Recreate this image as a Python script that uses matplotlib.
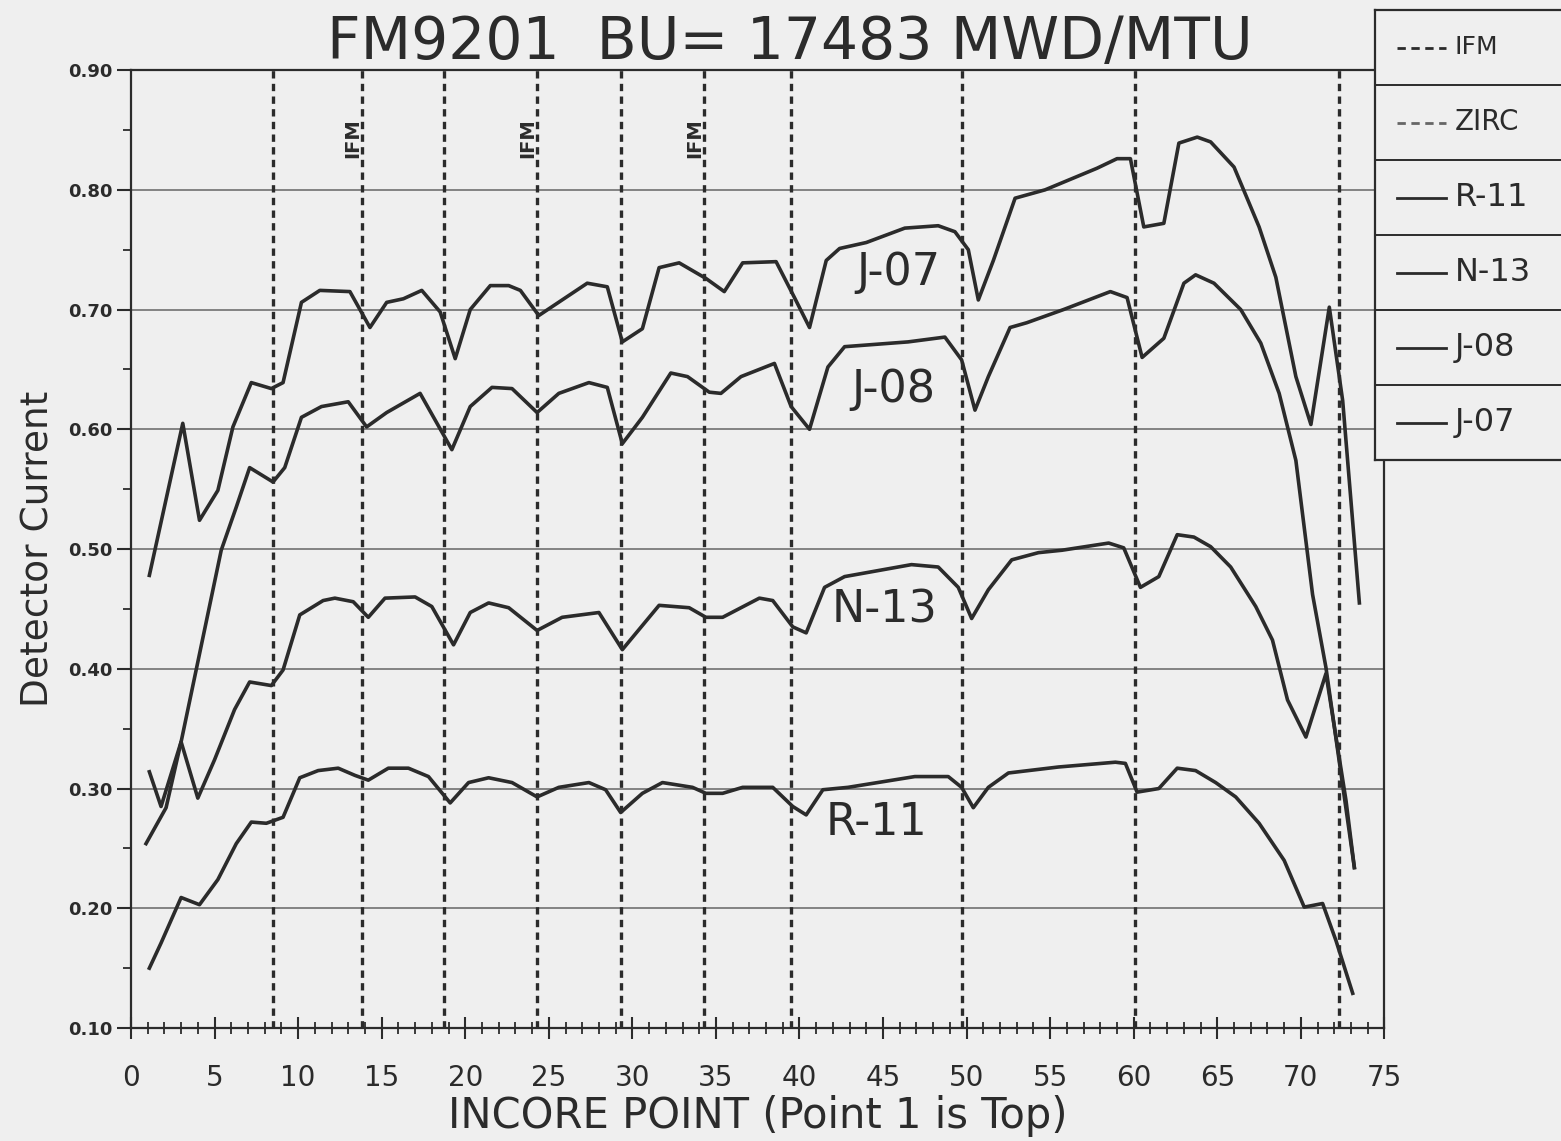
import matplotlib
matplotlib.use("Agg")
import matplotlib.pyplot as plt
import numpy as np

# data (incore point, detector current)
j07_x = [1.1, 3.1, 4.1, 5.2, 6.1, 7.2, 8.4, 9.1, 10.2, 11.3, 13.1, 14.3, 15.3, 16.3, 17.4, 18.5, 19.4,
         20.3, 21.5, 22.6, 23.3, 24.4, 27.3, 28.5, 29.4, 30.6, 31.6, 32.8, 34.4, 35.5, 36.6, 38.6, 39.7,
         40.6, 41.6, 42.4, 44.0, 46.3, 48.3, 49.3, 50.1, 50.7, 51.6, 52.9, 54.7, 57.8, 59.0, 59.8, 60.6,
         61.8, 62.7, 63.8, 64.6, 66.0, 67.5, 68.5, 69.7, 70.6, 71.7, 72.5, 73.5]
j07_y = [0.478, 0.605, 0.524, 0.549, 0.602, 0.639, 0.634, 0.639, 0.706, 0.716, 0.715, 0.685, 0.706, 0.709,
         0.716, 0.698, 0.659, 0.700, 0.720, 0.720, 0.716, 0.695, 0.722, 0.719, 0.673, 0.684, 0.735, 0.739,
         0.726, 0.715, 0.739, 0.740, 0.710, 0.685, 0.741, 0.751, 0.756, 0.768, 0.770, 0.765, 0.750, 0.708,
         0.741, 0.793, 0.800, 0.818, 0.826, 0.826, 0.769, 0.772, 0.839, 0.844, 0.840, 0.819, 0.769, 0.727,
         0.644, 0.604, 0.702, 0.624, 0.455]

j08_x = [0.9, 2.1, 3.0, 3.9, 5.4, 6.3, 7.1, 8.5, 9.2, 10.2, 11.4, 13.0, 14.1, 15.3, 17.3, 19.2, 20.3, 21.6,
         22.8, 24.3, 25.6, 27.4, 28.5, 29.4, 30.6, 32.3, 33.3, 34.6, 35.3, 36.5, 38.5, 39.5, 40.6, 41.7,
         42.7, 46.5, 48.7, 49.7, 50.5, 51.3, 52.6, 53.6, 55.8, 58.6, 59.6, 60.5, 61.8, 63.0, 63.7, 64.8,
         66.4, 67.6, 68.7, 69.7, 70.7, 71.5, 72.2, 73.2]
j08_y = [0.254, 0.284, 0.339, 0.399, 0.499, 0.535, 0.568, 0.556, 0.568, 0.610, 0.619, 0.623, 0.602, 0.614,
         0.630, 0.583, 0.619, 0.635, 0.634, 0.614, 0.630, 0.639, 0.635, 0.588, 0.610, 0.647, 0.644, 0.631,
         0.630, 0.644, 0.655, 0.619, 0.600, 0.652, 0.669, 0.673, 0.677, 0.658, 0.616, 0.644, 0.685, 0.689,
         0.700, 0.715, 0.710, 0.660, 0.676, 0.722, 0.729, 0.722, 0.700, 0.672, 0.630, 0.574, 0.462, 0.401,
         0.332, 0.234]

n13_x = [1.1, 1.8, 3.0, 4.0, 5.0, 6.2, 7.1, 8.4, 9.1, 10.1, 11.5, 12.2, 13.3, 14.2, 15.2, 17.0, 18.0,
         19.3, 20.3, 21.4, 22.6, 24.3, 25.8, 28.0, 29.4, 31.6, 33.4, 34.4, 35.4, 37.6, 38.4, 39.6, 40.4,
         41.5, 42.7, 46.7, 48.3, 49.5, 50.3, 51.3, 52.7, 54.3, 55.7, 58.5, 59.4, 60.4, 61.5, 62.6, 63.6,
         64.6, 65.8, 67.3, 68.3, 69.2, 70.3, 71.5, 72.7, 73.2]
n13_y = [0.314, 0.285, 0.339, 0.292, 0.324, 0.366, 0.389, 0.386, 0.399, 0.445, 0.457, 0.459, 0.456, 0.443,
         0.459, 0.460, 0.452, 0.420, 0.447, 0.455, 0.451, 0.432, 0.443, 0.447, 0.416, 0.453, 0.451, 0.443,
         0.443, 0.459, 0.457, 0.435, 0.430, 0.468, 0.477, 0.487, 0.485, 0.468, 0.442, 0.466, 0.491, 0.497,
         0.499, 0.505, 0.501, 0.468, 0.477, 0.512, 0.510, 0.502, 0.485, 0.452, 0.424, 0.374, 0.343, 0.396,
         0.290, 0.234]

r11_x = [1.1, 1.8, 3.0, 4.1, 5.2, 6.3, 7.2, 8.1, 9.1, 10.1, 11.2, 12.4, 13.4, 14.2, 15.4, 16.6, 17.8,
         19.1, 20.2, 21.4, 22.8, 24.3, 25.6, 27.4, 28.4, 29.3, 30.6, 31.8, 33.6, 34.4, 35.4, 36.6, 38.4,
         39.6, 40.4, 41.4, 42.9, 46.9, 48.9, 49.7, 50.4, 51.3, 52.5, 55.5, 58.9, 59.5, 60.2, 61.5, 62.6,
         63.7, 64.9, 66.1, 67.5, 69.0, 70.2, 71.3, 72.1, 73.1]
r11_y = [0.150, 0.171, 0.209, 0.203, 0.224, 0.254, 0.272, 0.271, 0.276, 0.309, 0.315, 0.317, 0.311, 0.307,
         0.317, 0.317, 0.310, 0.288, 0.305, 0.309, 0.305, 0.293, 0.301, 0.305, 0.299, 0.280, 0.296, 0.305,
         0.301, 0.296, 0.296, 0.301, 0.301, 0.285, 0.278, 0.299, 0.301, 0.310, 0.310, 0.301, 0.284, 0.301,
         0.313, 0.318, 0.322, 0.321, 0.297, 0.300, 0.317, 0.315, 0.305, 0.293, 0.271, 0.240, 0.201, 0.204,
         0.173, 0.129]

ifm_pos = [13.8, 24.3, 34.3]
zirc_pos = [8.5, 18.7, 29.3, 39.5, 49.7, 60.1, 72.3]

series = [("J-07", j07_x, j07_y, 45.9, 0.731),
          ("J-08", j08_x, j08_y, 45.6, 0.633),
          ("N-13", n13_x, n13_y, 45.1, 0.449),
          ("R-11", r11_x, r11_y, 44.6, 0.272)]

bg = '#efefef'
ink = '#2b2b2b'

fig = plt.figure(figsize=(15.61, 11.41), dpi=100, facecolor=bg)
ax = fig.add_axes([0.0839, 0.099, 0.803, 0.8396], facecolor=bg)

ax.set_xlim(0, 75)
ax.set_ylim(0.1, 0.9)

for y in np.arange(0.2, 0.85, 0.1):
	ax.axhline(y, color='#707070', lw=1.2, zorder=1)

for xp in zirc_pos + ifm_pos:
	ax.plot([xp, xp], [0.1, 0.9], color=ink, lw=2.4, dashes=(2.2, 1.6), zorder=2)

for lab, xs, ys, tx, ty in series:
	ax.plot(xs, ys, color=ink, lw=2.6, zorder=3)
	ax.text(tx, ty, lab, fontsize=32, color=ink, ha='center', va='center', zorder=4)

for xp in ifm_pos:
	ax.text(xp - 0.55, 0.843, 'IFM', rotation=90, fontsize=14, fontweight='bold',
	        color=ink, ha='center', va='center')

ax.set_xticks(np.arange(0, 76, 5))
ax.set_xticks(np.arange(0, 76, 1), minor=True)
ax.set_yticks(np.arange(0.1, 0.91, 0.1))
ax.set_yticks(np.arange(0.1, 0.91, 0.05), minor=True)
ax.set_yticklabels(['%.2f' % v for v in np.arange(0.1, 0.91, 0.1)],
                   fontsize=13, fontweight='bold')
ax.set_xticklabels([str(v) for v in range(0, 76, 5)], fontsize=20)
ax.tick_params(axis='x', which='major', direction='inout', length=16, width=1.5, pad=18, colors=ink)
ax.tick_params(axis='x', which='minor', direction='inout', length=9, width=1.3, colors=ink)
ax.tick_params(axis='y', which='major', direction='out', length=10, width=1.5, colors=ink)
ax.tick_params(axis='y', which='minor', direction='out', length=6, width=1.3, colors=ink)
for s in ax.spines.values():
	s.set_color(ink)
	s.set_linewidth(1.6)

fig.text(790 / 1561, 1 - 42 / 1141, 'FM9201  BU= 17483 MWD/MTU', fontsize=42, color=ink,
         ha='center', va='center')
ax.set_ylabel('Detector Current', fontsize=27, color=ink, labelpad=8)
ax.set_xlabel('INCORE POINT (Point 1 is Top)', fontsize=30, color=ink, labelpad=2)

# legend box drawn at the right edge
lg = fig.add_axes([1375 / 1561, 1 - 460 / 1141, 186 / 1561, 450 / 1141], facecolor=bg)
lg.set_xlim(0, 1)
lg.set_ylim(0, 6)
lg.set_xticks([])
lg.set_yticks([])
for s in lg.spines.values():
	s.set_color(ink)
	s.set_linewidth(1.6)
lg.spines['right'].set_visible(False)
entries = [('IFM', (0, (3, 2)), ink, 18), ('ZIRC', (0, (3, 2)), '#666666', 20),
           ('R-11', '-', ink, 23), ('N-13', '-', ink, 23),
           ('J-08', '-', ink, 23), ('J-07', '-', ink, 23)]
for i, (name, ls, col, fs) in enumerate(entries):
	yc = 5.5 - i
	if i > 0:
		lg.axhline(6 - i, color=ink, lw=1.4)
	lg.plot([0.12, 0.38], [yc, yc], ls=ls, color=col, lw=2.0)
	lg.text(0.43, yc, name, fontsize=fs, color=ink, va='center', ha='left')

fig.savefig('out.png', dpi=100, facecolor=bg)
